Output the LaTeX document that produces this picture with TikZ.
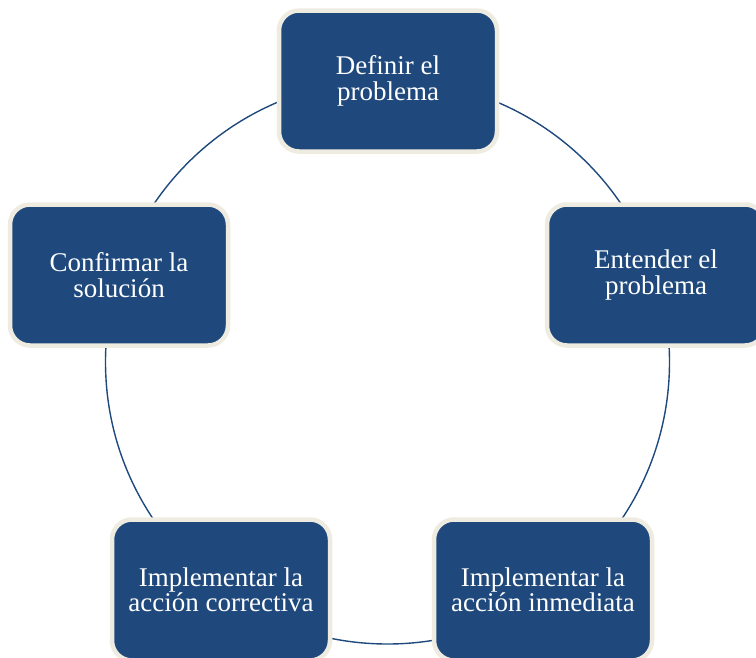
\documentclass[tikz,border=0pt]{standalone}
\usepackage{fontspec}
\setmainfont{Liberation Serif}
\usepackage{tikz}
\definecolor{stepblue}{HTML}{1F497D}
\definecolor{stepcream}{HTML}{EEEBE0}
\tikzstyle{node_step} = [rectangle, rounded corners=20pt, draw=stepcream, line width=4.5pt, fill=stepblue, minimum width=218pt, minimum height=141pt, inner sep=0pt, text=white, align=center, font=\fontsize{27}{25.5}\selectfont]
\tikzstyle{edge_cycle} = [draw=stepblue, line width=1.4pt]

\begin{document}
\begin{tikzpicture}[x=1pt, y=-1pt]
\useasboundingbox (0,0) rectangle (756,657);
\clip (0,0) rectangle (756,657);
\coordinate (O) at (387.5,362);
\draw[edge_cycle] (O) circle [radius=282pt];
\node (A) at (388,81) [node_step] {Definir el\\problema};
\node (B) at (656,275) [node_step] {Entender el\\problema};
\node (C) at (543,590) [node_step] {Implementar la\\acción inmediata};
\node (D) at (221,590) [node_step] {Implementar la\\acción correctiva};
\node (E) at (119,275) [node_step] {Confirmar la\\solución};
\end{tikzpicture}
\end{document}
